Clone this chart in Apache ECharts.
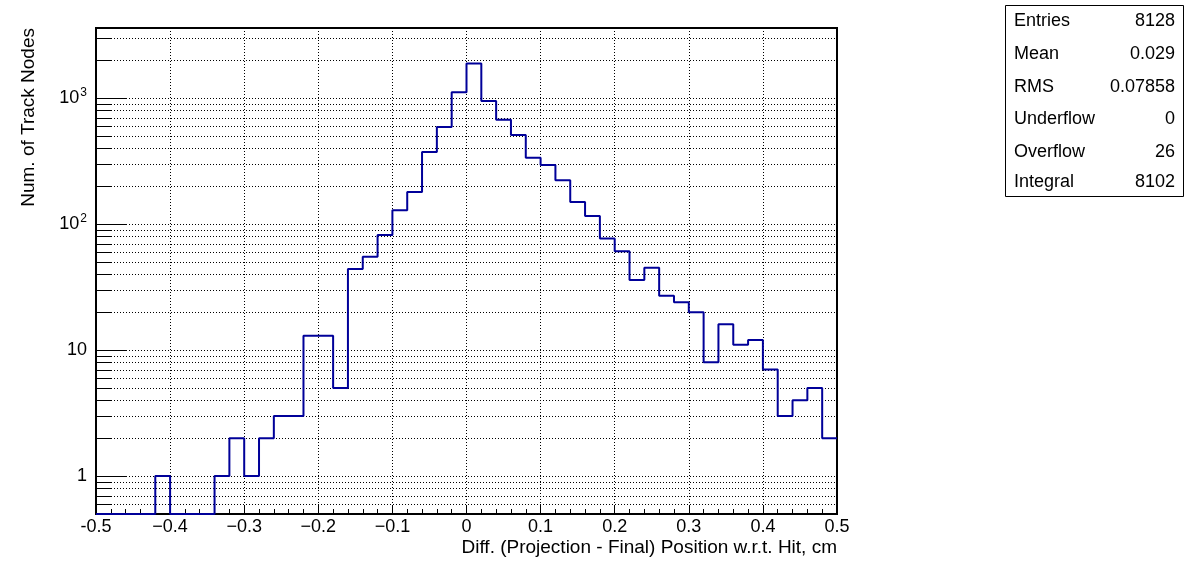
<!DOCTYPE html>
<html><head><meta charset="utf-8">
<script src="https://cdn.jsdelivr.net/npm/echarts@6/dist/echarts.min.js"></script>
<style>html,body{margin:0;padding:0;background:#fff}#c{width:1196px;height:572px}</style>
</head><body><div id="c"></div>
<script>
// ---- data ----
const binLow = [-0.50,-0.48,-0.46,-0.44,-0.42,-0.40,-0.38,-0.36,-0.34,-0.32,
                -0.30,-0.28,-0.26,-0.24,-0.22,-0.20,-0.18,-0.16,-0.14,-0.12,
                -0.10,-0.08,-0.06,-0.04,-0.02, 0.00, 0.02, 0.04, 0.06, 0.08,
                 0.10, 0.12, 0.14, 0.16, 0.18, 0.20, 0.22, 0.24, 0.26, 0.28,
                 0.30, 0.32, 0.34, 0.36, 0.38, 0.40, 0.42, 0.44, 0.46, 0.48];
const counts = [0,0,0,0,1,0,0,0,1,2,
                1,2,3,3,13,13,5,44,55,82,
                129,180,373,589,1115,1885,948,673,509,336,
                294,223,150,116,77,61,36,45,27,24,
                20,8,16,11,12,7,3,4,5,2];
const xTickValues = [-0.5,-0.4,-0.3,-0.2,-0.1,0,0.1,0.2,0.3,0.4,0.5];
const xTickLabels = ['-0.5','\u22120.4','\u22120.3','\u22120.2','\u22120.1','0','0.1','0.2','0.3','0.4','0.5'];
const yTickValues = [1,10,100,1000];
const yTickLabels = ['1','10','10{s|2}','10{s|3}'];
const yMinorTicks = [0.6,0.7,0.8,0.9,2,3,4,5,6,7,8,9,20,30,40,50,60,70,80,90,
                     200,300,400,500,600,700,800,900,2000,3000];
const statsLabels = ['Entries','Mean','RMS','Underflow','Overflow','Integral'];
const statsValues = ['8128','0.029','0.07858','0','26','8102'];
const xTitle = 'Diff. (Projection - Final) Position w.r.t. Hit, cm';
const yTitle = 'Num. of Track Nodes';

// ---- chart ----
const xMin = -0.5, xMax = 0.5, yMin = 0.5, yMax = 3600;
const FONT = '"Liberation Sans", Arial, Helvetica, sans-serif';
const lineData = counts.map((c, i) => [binLow[i], c > 0 ? c : yMin]);
lineData.push([xMax, counts[counts.length - 1] > 0 ? counts[counts.length - 1] : yMin]);

const chart = echarts.init(document.getElementById('c'), null, {renderer: 'canvas'});
const dotted = {color: '#000', width: 1, type: [1, 2]};

const option = {
  animation: false,
  backgroundColor: '#fff',
  textStyle: {fontFamily: FONT, color: '#000'},
  grid: {left: 96, top: 28, width: 741, height: 486, show: true,
         borderColor: '#000', borderWidth: 2, backgroundColor: 'transparent', containLabel: false},
  xAxis: {
    type: 'value', min: xMin, max: xMax, interval: 0.1,
    axisLine: {show: false, onZero: false},
    axisTick: {show: true, inside: true, length: 9, lineStyle: {color: '#000', width: 1}},
    minorTick: {show: true, splitNumber: 5, length: 5, lineStyle: {color: '#000', width: 1}},
    splitLine: {show: true, lineStyle: dotted},
    axisLabel: {
      margin: 4, fontSize: 18, fontFamily: FONT, color: '#000',
      formatter: v => {
        const i = xTickValues.findIndex(t => Math.abs(t - v) < 1e-6);
        return i >= 0 ? xTickLabels[i] : '';
      }
    },
    name: xTitle, nameLocation: 'end', nameGap: 0,
    nameTextStyle: {fontSize: 19, fontFamily: FONT, color: '#000', align: 'right', verticalAlign: 'top',
                    padding: [24, 0, 0, 0]}
  },
  yAxis: {
    type: 'log', logBase: 10, min: yMin, max: yMax,
    axisLine: {show: false, onZero: false},
    axisTick: {show: true, inside: true, length: 31, lineStyle: {color: '#000', width: 1}},
    splitLine: {show: true, lineStyle: dotted},
    axisLabel: {
      margin: 9, fontSize: 18, fontFamily: FONT, color: '#000',
      formatter: v => {
        const e = Math.log10(v), r = Math.round(e);
        if (Math.abs(e - r) > 1e-6) return '';
        const i = yTickValues.indexOf(Math.pow(10, r));
        return i >= 0 ? yTickLabels[i] : '';
      },
      rich: {
        s: {fontSize: 12, fontFamily: FONT, color: '#000', verticalAlign: 'bottom', padding: [0, 0, 10, 1]}
      }
    }
  },
  series: [
    {
      type: 'custom', silent: true, z: 1,
      data: yMinorTicks.map(v => [xMin, v]),
      encode: {x: 0, y: 1},
      renderItem: (params, api) => {
        const v = api.value(1);
        const a = api.coord([xMin, v]);
        const b = api.coord([xMax, v]);
        const y = Math.round(a[1]) + 0.5;
        return {type: 'group', children: [
          {type: 'line', shape: {x1: a[0], y1: y, x2: b[0], y2: y},
           style: {stroke: '#000', lineWidth: 1, lineDash: [1, 2]}},
          {type: 'line', shape: {x1: a[0], y1: y, x2: a[0] + 16, y2: y},
           style: {stroke: '#000', lineWidth: 1}}
        ]};
      }
    },
    {
      type: 'line', step: 'end', z: 3, silent: true,
      data: lineData, showSymbol: false, symbol: 'none',
      lineStyle: {color: '#000099', width: 2}
    }
  ],
  graphic: [
    {type: 'text', left: 19, top: 28, rotation: Math.PI / 2, z: 10,
     style: {text: yTitle, font: '19px ' + FONT, fill: '#000'}},
    {type: 'rect', z: 10, shape: {x: 1005.5, y: 5.5, width: 178, height: 191},
     style: {fill: '#fff', stroke: '#000', lineWidth: 1}}
  ]
};
const rowY = [21, 54, 87, 119, 152, 182];
statsLabels.forEach((t, i) => {
  option.graphic.push({type: 'text', z: 11, x: 1014, y: rowY[i],
    style: {text: t, font: '18px ' + FONT, fill: '#000', align: 'left', verticalAlign: 'middle'}});
  option.graphic.push({type: 'text', z: 11, x: 1175, y: rowY[i],
    style: {text: statsValues[i], font: '18px ' + FONT, fill: '#000', align: 'right', verticalAlign: 'middle'}});
});
chart.setOption(option);
</script>
</body></html>
